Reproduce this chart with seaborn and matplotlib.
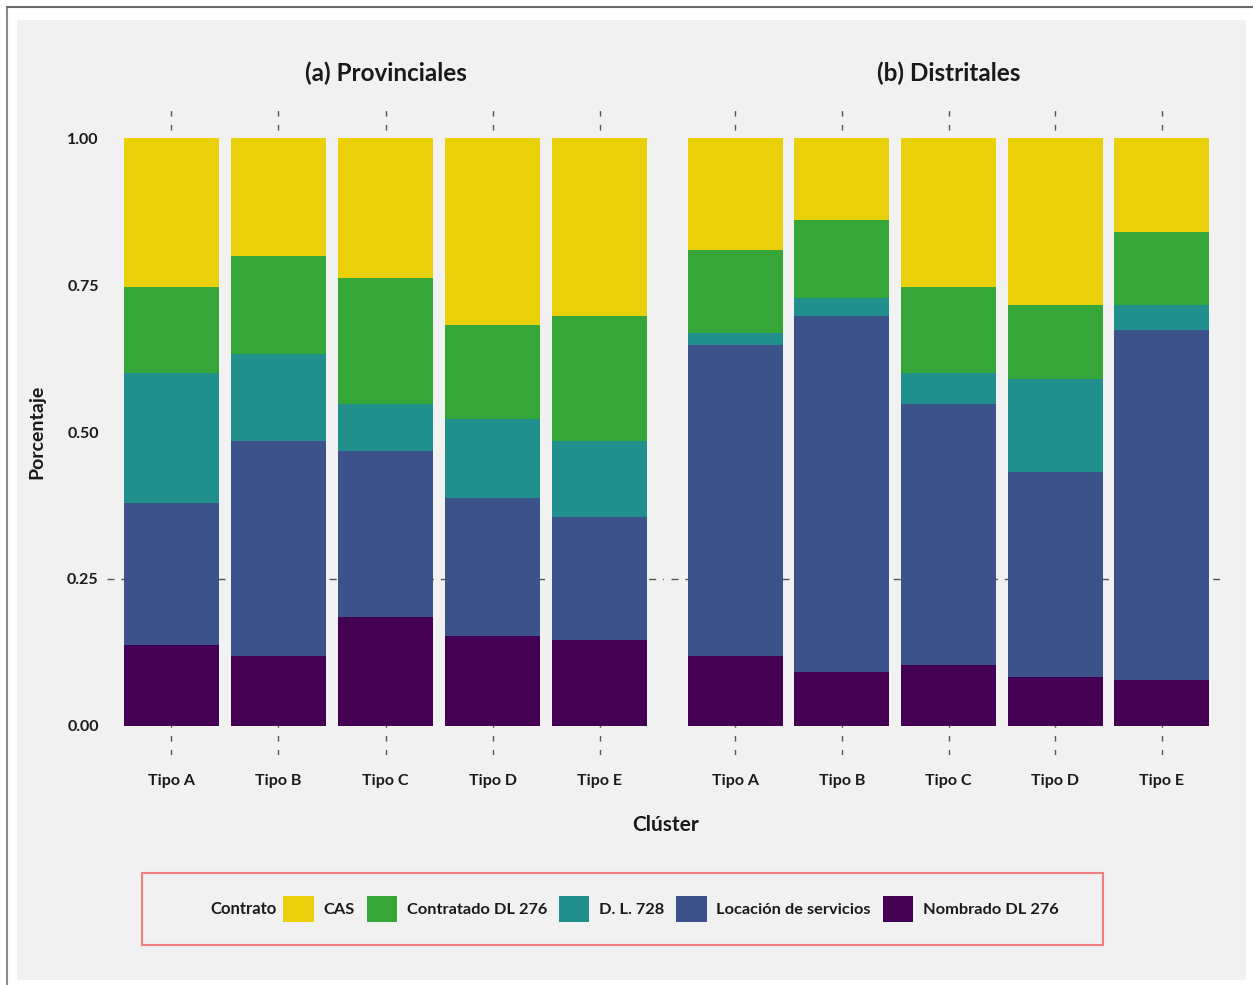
import numpy as np
import pandas as pd
import matplotlib
matplotlib.use("Agg")
import matplotlib.pyplot as plt
import seaborn as sns
from matplotlib.patches import Rectangle, Patch
from matplotlib.lines import Line2D

clusters = ['Tipo A', 'Tipo B', 'Tipo C', 'Tipo D', 'Tipo E']
contratos = ['CAS', 'Contratado DL 276', 'D. L. 728', 'Locación de servicios', 'Nombrado DL 276']
colores = ['#EAD00A', '#35A637', '#21908C', '#3B528B', '#440154']

# proporciones por cluster (orden: CAS, Contratado, D.L. 728, Locación, Nombrado)
prov_cas = [0.253, 0.201, 0.238, 0.318, 0.303]
prov_contratado = [0.147, 0.166, 0.214, 0.160, 0.212]
prov_dl728 = [0.221, 0.148, 0.080, 0.134, 0.130]
prov_locacion = [0.241, 0.366, 0.283, 0.235, 0.210]
prov_nombrado = [0.138, 0.119, 0.185, 0.153, 0.145]

dist_cas = [0.190, 0.139, 0.253, 0.284, 0.160]
dist_contratado = [0.142, 0.133, 0.147, 0.126, 0.124]
dist_dl728 = [0.020, 0.031, 0.052, 0.158, 0.043]
dist_locacion = [0.529, 0.605, 0.444, 0.350, 0.596]
dist_nombrado = [0.119, 0.092, 0.104, 0.082, 0.077]

rows = []
for nivel, series in [('Provinciales', [prov_cas, prov_contratado, prov_dl728, prov_locacion, prov_nombrado]),
                      ('Distritales', [dist_cas, dist_contratado, dist_dl728, dist_locacion, dist_nombrado])]:
    for c, vals in zip(contratos, series):
        for cl, v in zip(clusters, vals):
            rows.append({'Nivel': nivel, 'Cluster': cl, 'Contrato': c, 'Porcentaje': v})
df = pd.DataFrame(rows)

sns.set_theme(style='white')
plt.rcParams['font.family'] = ['Lato', 'DejaVu Sans']
txt = '#1a1a1a'
bg = '#F1F1F1'
fw = 'bold'

fig = plt.figure(figsize=(12.53, 9.85), dpi=100)
fig.patch.set_facecolor('white')
W, H = 1253, 985
fig.patches.append(Rectangle((17 / W, 1 - 980 / H), (1246 - 17) / W, (980 - 20) / H,
                             transform=fig.transFigure, facecolor=bg, edgecolor='none', zorder=-10))
fig.lines.append(Line2D([7 / W, 7 / W], [0, 1 - 7 / H], transform=fig.transFigure, color='#8a8a8a', lw=1.5, zorder=-9))
fig.lines.append(Line2D([7 / W, 1], [1 - 7 / H, 1 - 7 / H], transform=fig.transFigure, color='#6a6a6a', lw=1.5, zorder=-9))

bottom, height = 1 - 755 / H, (755 - 109) / H
ax_a = fig.add_axes([107 / W, bottom, 557 / W, height])
ax_b = fig.add_axes([671 / W, bottom, 555 / W, height])

orden_apilado = contratos[::-1]  # Nombrado abajo, CAS arriba
for ax, nivel, titulo in [(ax_a, 'Provinciales', '(a) Provinciales'), (ax_b, 'Distritales', '(b) Distritales')]:
    sub = df[df['Nivel'] == nivel]
    ax.set_facecolor(bg)
    base = np.zeros(len(clusters))
    for c in orden_apilado:
        vals = sub[sub['Contrato'] == c].set_index('Cluster').loc[clusters, 'Porcentaje'].values
        sns.barplot(x=clusters, y=vals, bottom=base, color=colores[contratos.index(c)],
                    width=0.89, saturation=1, ax=ax, zorder=3, linewidth=0)
        base = base + vals
    ax.set_xlim(-0.6, 4.6)
    ax.set_ylim(-0.05, 1.05)
    for s in ax.spines.values():
        s.set_visible(False)
    for i in range(len(clusters)):
        ax.axvline(i, color='#555555', lw=1, ls=(0, (4, 6)), zorder=1)
    ax.axhline(0.25, color='#555555', lw=1, ls=(0, (5, 5)), zorder=1)
    ax.tick_params(axis='both', length=0)
    ax.set_xticks(range(len(clusters)))
    ax.set_xticklabels(clusters, fontsize=11.5, color=txt, fontweight=fw)
    ax.tick_params(axis='x', pad=14)
    ax.set_xlabel('')
    ax.set_ylabel('')
    ax.set_title(titulo, fontsize=17.5, fontweight=fw, color=txt, pad=20)

ax_a.set_yticks([0, 0.25, 0.5, 0.75, 1.0])
ax_a.set_yticklabels(['0.00', '0.25', '0.50', '0.75', '1.00'], fontsize=11.5, color=txt, fontweight=fw)
ax_a.tick_params(axis='y', pad=6)
ax_b.set_yticks([])

fig.text(37 / W, 1 - 432 / H, 'Porcentaje', rotation=90, ha='center', va='center', fontsize=14,
         fontweight=fw, color=txt)
fig.text(666 / W, 1 - 825 / H, 'Clúster', ha='center', va='center', fontsize=15,
         fontweight=fw, color=txt)

# leyenda: marco, titulo y entradas
fig.patches.append(Rectangle((142 / W, 1 - 945 / H), (1103 - 142) / W, (945 - 873) / H,
                             transform=fig.transFigure, facecolor='none', edgecolor='#F08080',
                             lw=1.5, zorder=5))
fig.text(210 / W, 1 - 909 / H, 'Contrato', ha='left', va='center', fontsize=12,
         fontweight=fw, color=txt)
handles = [Patch(facecolor=col, edgecolor='none') for col in colores]
leg = fig.legend(handles, contratos, loc='center', bbox_to_anchor=(671 / W, 1 - 909 / H), ncol=5,
                 frameon=False, fontsize=11.8, handlelength=1.85, handleheight=2.1,
                 handletextpad=0.6, columnspacing=0.72)
for t in leg.get_texts():
    t.set_color(txt)
    t.set_fontweight(fw)

fig.savefig('out.png', dpi=100, facecolor='white')
